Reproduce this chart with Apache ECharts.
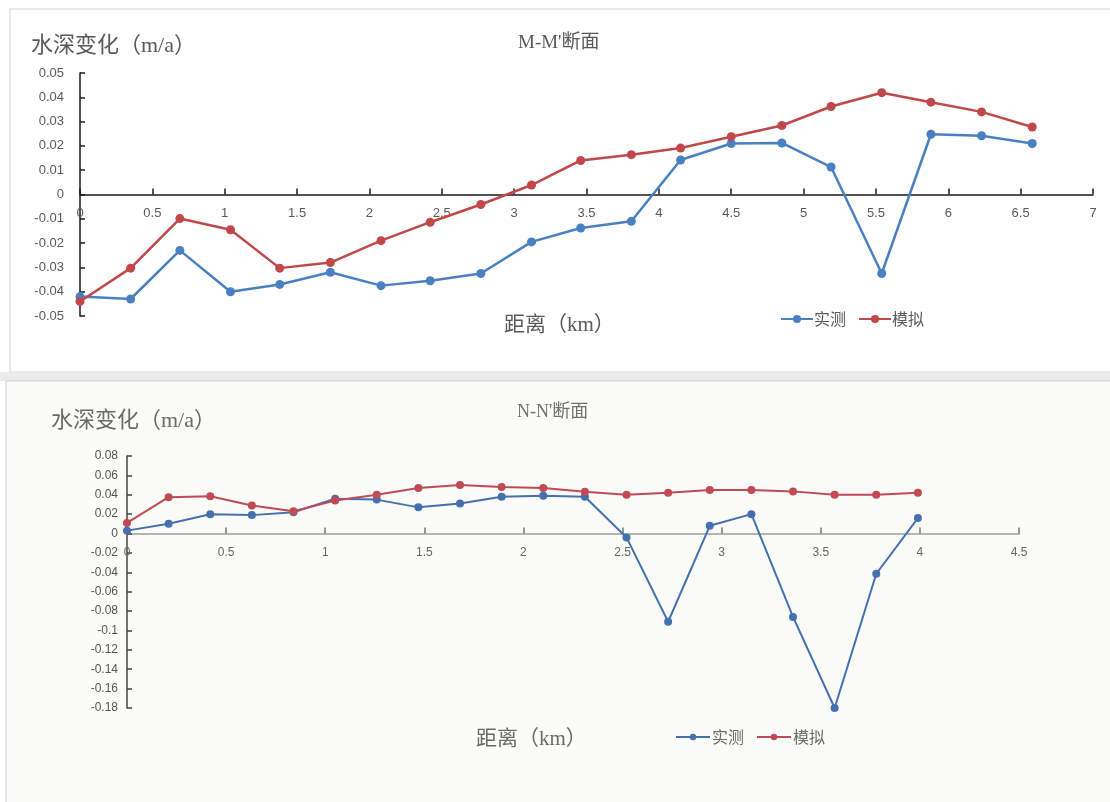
<!DOCTYPE html>
<html>
<head>
<meta charset="utf-8">
<script src="https://cdn.jsdelivr.net/npm/echarts@6/dist/echarts.min.js"></script>
<style>
html,body{margin:0;padding:0;background:#fff;}
#chart{width:1110px;height:802px;}
</style>
</head>
<body>
<div id="chart"></div>
<script>
// ---- M-M' section ----
const mmDist = [0, 0.35, 0.69, 1.04, 1.38, 1.73, 2.08, 2.42, 2.77, 3.12, 3.46, 3.81, 4.15, 4.50, 4.85, 5.19, 5.54, 5.88, 6.23, 6.58];
const mmMeasured = [-0.042, -0.043, -0.023, -0.040, -0.037, -0.032, -0.0375, -0.0355, -0.0325, -0.0195, -0.0138, -0.011, 0.0142, 0.021, 0.0212, 0.0113, -0.0325, 0.0248, 0.0242, 0.021];
const mmSimulated = [-0.044, -0.0303, -0.0099, -0.0145, -0.0303, -0.028, -0.019, -0.0114, -0.0041, 0.0039, 0.014, 0.0164, 0.0191, 0.0238, 0.0284, 0.0362, 0.0419, 0.038, 0.034, 0.0278];
// ---- N-N' section ----
const nnDist = [0, 0.21, 0.42, 0.63, 0.84, 1.05, 1.26, 1.47, 1.68, 1.89, 2.10, 2.31, 2.52, 2.73, 2.94, 3.15, 3.36, 3.57, 3.78, 3.99];
const nnMeasured = [0.003, 0.010, 0.020, 0.019, 0.022, 0.036, 0.035, 0.027, 0.031, 0.038, 0.039, 0.038, -0.004, -0.091, 0.008, 0.020, -0.086, -0.180, -0.0415, 0.016];
const nnSimulated = [0.011, 0.0375, 0.0385, 0.029, 0.023, 0.034, 0.040, 0.047, 0.050, 0.048, 0.047, 0.043, 0.040, 0.042, 0.045, 0.045, 0.0435, 0.040, 0.040, 0.042];

// axis ranges (tick labels come from these)
const mmXRange = [0, 7, 0.5];
const mmYRange = [-0.05, 0.05, 0.01];
const nnXRange = [0, 4.5, 0.5];
const nnYRange = [-0.18, 0.08, 0.02];

const seriesNames = ['实测', '模拟'];
const yTitle = '水深变化（m/a）';
const xTitle = '距离（km）';
const mmTitle = "M-M'断面";
const nnTitle = "N-N'断面";

const zip = (xs, ys) => xs.map((x, i) => [x, ys[i]]);

const topBlue = '#4a7fc1', topRed = '#c0474a';
const botBlue = '#4570b0', botRed = '#c04a55';
const font = "'Liberation Serif','Noto Sans CJK SC',serif";

const grids = [
  {left: 80, top: 73, width: 1013, height: 243},
  {left: 127, top: 456, width: 892, height: 252}
];
// offset that lifts a bottom x axis up to the y = 0 line of its grid
const zeroOffset = (g, yr) => -(g.height * (0 - yr[0]) / (yr[1] - yr[0]));

const chart = echarts.init(document.getElementById('chart'));
chart.setOption({
  animation: false,
  backgroundColor: '#ffffff',
  graphic: [
    {type: 'rect', z: -10, shape: {x: 10, y: 9, width: 1110, height: 363}, style: {fill: '#ffffff', stroke: '#d4d4d4', lineWidth: 1}},
    {type: 'rect', z: -10, shape: {x: 0, y: 372, width: 1110, height: 9}, style: {fill: '#ebebeb'}},
    {type: 'rect', z: -10, shape: {x: 6, y: 381, width: 1110, height: 430}, style: {fill: '#fbfbf8', stroke: '#d0d0d0', lineWidth: 1}}
  ],
  title: [
    {text: yTitle, left: 26, top: 30, textStyle: {fontFamily: font, fontSize: 22, fontWeight: 'normal', color: '#595959'}},
    {text: mmTitle, left: 513, top: 29, textStyle: {fontFamily: font, fontSize: 19, fontWeight: 'normal', color: '#595959'}},
    {text: xTitle, left: 499, top: 310, textStyle: {fontFamily: font, fontSize: 21, fontWeight: 'normal', color: '#595959'}},
    {text: yTitle, left: 46, top: 405, textStyle: {fontFamily: font, fontSize: 22, fontWeight: 'normal', color: '#6a6a6a'}},
    {text: nnTitle, left: 512, top: 398, textStyle: {fontFamily: font, fontSize: 18, fontWeight: 'normal', color: '#707070'}},
    {text: xTitle, left: 471, top: 724, textStyle: {fontFamily: font, fontSize: 21, fontWeight: 'normal', color: '#6a6a6a'}}
  ],
  legend: [
    {
      left: 775, top: 306, itemWidth: 32, itemHeight: 10, itemGap: 12,
      textStyle: {fontFamily: "'Noto Sans CJK SC',sans-serif", fontSize: 16, color: '#595959', padding: [0, 0, 0, -4]},
      data: [
        {name: seriesNames[0], itemStyle: {color: topBlue}, lineStyle: {color: topBlue}},
        {name: seriesNames[1], itemStyle: {color: topRed}, lineStyle: {color: topRed}}
      ]
    },
    {
      left: 670, top: 724, itemWidth: 34, itemHeight: 8, itemGap: 12,
      textStyle: {fontFamily: "'Noto Sans CJK SC',sans-serif", fontSize: 16, color: '#6a6a6a', padding: [0, 0, 0, -3]},
      data: [
        {name: seriesNames[0], itemStyle: {color: botBlue}, lineStyle: {color: botBlue}},
        {name: seriesNames[1], itemStyle: {color: botRed}, lineStyle: {color: botRed}}
      ]
    }
  ],
  grid: grids,
  xAxis: [
    {
      gridIndex: 0, type: 'value', min: mmXRange[0], max: mmXRange[1], interval: mmXRange[2],
      position: 'bottom', offset: zeroOffset(grids[0], mmYRange),
      axisLine: {onZero: false, lineStyle: {color: '#1a1a1a', width: 1.5}},
      axisTick: {inside: true, length: 6, lineStyle: {color: '#1a1a1a', width: 1.5}},
      axisLabel: {color: '#595959', fontSize: 13, margin: 12, fontFamily: "'Liberation Sans',sans-serif"},
      splitLine: {show: false}
    },
    {
      gridIndex: 1, type: 'value', min: nnXRange[0], max: nnXRange[1], interval: nnXRange[2],
      position: 'bottom', offset: zeroOffset(grids[1], nnYRange),
      axisLine: {onZero: false, lineStyle: {color: '#b5b5b5', width: 2}},
      axisTick: {inside: true, length: 6, lineStyle: {color: '#777', width: 1.5}},
      axisLabel: {color: '#666', fontSize: 12, margin: 13, fontFamily: "'Liberation Sans',sans-serif"},
      splitLine: {show: false}
    }
  ],
  yAxis: [
    {
      gridIndex: 0, type: 'value', min: mmYRange[0], max: mmYRange[1], interval: mmYRange[2],
      axisLine: {show: true, onZero: false, lineStyle: {color: '#1a1a1a', width: 1.5}},
      axisTick: {show: true, inside: true, length: 5, lineStyle: {color: '#1a1a1a', width: 1.5}},
      axisLabel: {color: '#595959', fontSize: 13, margin: 16, fontFamily: "'Liberation Sans',sans-serif"},
      splitLine: {show: false}
    },
    {
      gridIndex: 1, type: 'value', min: nnYRange[0], max: nnYRange[1], interval: nnYRange[2],
      axisLine: {show: true, onZero: false, lineStyle: {color: '#444', width: 1.5}},
      axisTick: {show: true, inside: true, length: 5, lineStyle: {color: '#444', width: 1.5}},
      axisLabel: {color: '#555', fontSize: 12, margin: 9, fontFamily: "'Liberation Sans Narrow','Liberation Sans',sans-serif"},
      splitLine: {show: false}
    }
  ],
  series: [
    {name: seriesNames[0], type: 'line', xAxisIndex: 0, yAxisIndex: 0, data: zip(mmDist, mmMeasured),
     symbol: 'circle', symbolSize: 9, lineStyle: {color: topBlue, width: 2.5}, itemStyle: {color: topBlue}},
    {name: seriesNames[1], type: 'line', xAxisIndex: 0, yAxisIndex: 0, data: zip(mmDist, mmSimulated),
     symbol: 'circle', symbolSize: 9, lineStyle: {color: topRed, width: 2.5}, itemStyle: {color: topRed}},
    {name: seriesNames[0], type: 'line', xAxisIndex: 1, yAxisIndex: 1, data: zip(nnDist, nnMeasured),
     symbol: 'circle', symbolSize: 8, lineStyle: {color: botBlue, width: 2}, itemStyle: {color: botBlue}},
    {name: seriesNames[1], type: 'line', xAxisIndex: 1, yAxisIndex: 1, data: zip(nnDist, nnSimulated),
     symbol: 'circle', symbolSize: 8, lineStyle: {color: botRed, width: 2}, itemStyle: {color: botRed}}
  ]
});
</script>
</body>
</html>
